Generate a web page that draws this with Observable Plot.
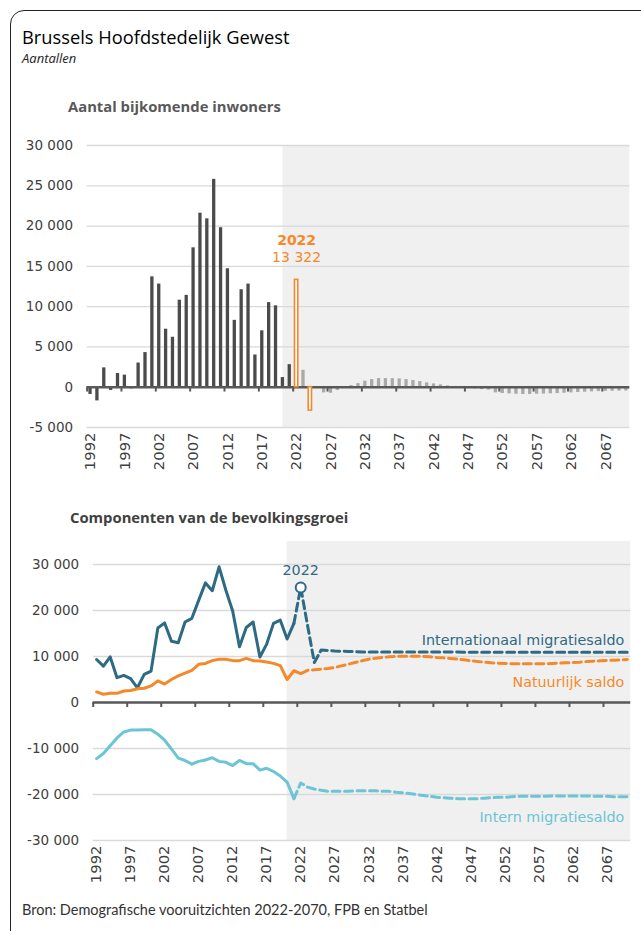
<!DOCTYPE html>
<html><head><meta charset="utf-8">
<script src="https://cdn.jsdelivr.net/npm/d3@7"></script>
<script src="https://cdn.jsdelivr.net/npm/@observablehq/plot@0.6"></script>
<style>
html,body{margin:0;padding:0;background:#fff}
body{width:641px;height:931px;overflow:hidden;position:relative;font-family:"DejaVu Sans",sans-serif}
#card{position:absolute;left:10px;top:10px;width:720px;height:1000px;border:1.5px solid #222;border-radius:14px;box-sizing:border-box}
.t{position:absolute;white-space:nowrap;line-height:1}
#title{left:22px;top:28px;font-family:"Open Sans";font-size:18.3px;color:#000}
#subtitle{left:22px;top:52px;font-family:"Open Sans";font-style:italic;font-size:13px;color:#222}
#h1{left:68px;top:99px;font-family:"Open Sans";font-weight:bold;font-size:14.8px;color:#595959}
#h2{left:70px;top:510px;font-family:"Open Sans";font-weight:bold;font-size:14.8px;color:#404040}
#caption{left:22px;top:903px;font-family:"Lato";font-size:14.5px;color:#333}
#top{position:absolute;left:0;top:120px}
#bot{position:absolute;left:0;top:530px}
svg text{font-family:"DejaVu Sans",sans-serif !important}
</style></head>
<body>
<div id="card"></div>
<div class="t" id="title">Brussels Hoofdstedelijk Gewest</div>
<div class="t" id="subtitle">Aantallen</div>
<div class="t" id="h1">Aantal bijkomende inwoners</div>
<div class="t" id="h2">Componenten van de bevolkingsgroei</div>
<div id="top"></div>
<div id="bot"></div>
<div class="t" id="caption">Bron: Demografische vooruitzichten 2022-2070, FPB en Statbel</div>
<script>
// ---------- DATA ----------
const firstYear = 1992;
const lastObservedYear = 2021;
const shadeFromYear = 2020;
const highlightYears = [2022, 2024];
const xLabelYears = [1992, 1997, 2002, 2007, 2012, 2017, 2022, 2027, 2032, 2037, 2042, 2047, 2052, 2057, 2062, 2067];
const topYTicks = [-5000, 0, 5000, 10000, 15000, 20000, 25000, 30000];
const botYTicks = [-30000, -20000, -10000, 0, 10000, 20000, 30000];
const topYDomain = [-5000, 30000];
const botYDomain = [-30000, 35000];

// Aantal bijkomende inwoners, 1992-2070
const growth = [
  -900, -1700, 2400, -400, 1700, 1500, -200, 3000, 4300, 13700,
  12800, 7200, 6200, 10800, 11400, 17300, 21600, 20900, 25800, 19800,
  14700, 8300, 12100, 12800, 4000, 7000, 10500, 10100, 1200, 2800,
  13322, 2100, -2900, -100, -700, -750, -400, -50, 200, 450,
  750, 950, 1070, 1070, 1070, 1030, 950, 830, 700, 540,
  410, 290, 170, 50, -50, -150, -200, -300, -350, -700,
  -780, -830, -870, -900, -900, -870, -850, -820, -790, -750,
  -700, -660, -620, -580, -540, -520, -500, -480, -470
];

// Internationaal migratiesaldo, 1992-2070
const international = [
  9350, 7900, 9900, 5400, 5900, 5200, 3200, 6100, 6800, 16200,
  17300, 13300, 13000, 17500, 18300, 22200, 26000, 24300, 29500, 24400,
  19900, 12100, 16300, 17500, 9900, 12700, 17200, 17900, 13800, 17200,
  25000, 16800, 8700, 11400, 11300, 11200, 11150, 11100, 11050, 11000,
  11000, 11000, 11000, 11000, 11000, 11000, 11000, 11000, 11000, 11000,
  10980, 10980, 10970, 10960, 10950, 10950, 10940, 10940, 10930, 10930,
  10920, 10920, 10910, 10910, 10900, 10900, 10900, 10900, 10900, 10900,
  10900, 10900, 10900, 10900, 10900, 10900, 10900, 10900, 10900
];

// Natuurlijk saldo, 1992-2070
const natural = [
  2300, 1800, 2000, 2000, 2500, 2600, 3000, 3100, 3600, 4700,
  4000, 5000, 5800, 6400, 7000, 8300, 8500, 9100, 9400, 9400,
  9100, 9100, 9600, 9100, 9000, 8800, 8500, 8000, 5000, 6900,
  6300, 7000, 7100, 7250, 7400, 7600, 7970, 8330, 8700, 9060,
  9420, 9640, 9780, 9930, 10000, 10070, 10070, 10070, 10000, 9930,
  9780, 9710, 9570, 9420, 9280, 9060, 8910, 8770, 8620, 8550,
  8480, 8420, 8400, 8400, 8400, 8400, 8420, 8480, 8550, 8620,
  8700, 8770, 8900, 8990, 9060, 9130, 9200, 9280, 9350
];

// Intern migratiesaldo, 1992-2070
const internal = [
  -12200, -11100, -9400, -7700, -6400, -6000, -6000, -5900, -5900, -6900,
  -8200, -10100, -12100, -12600, -13400, -12800, -12500, -12000, -12800, -13000,
  -13700, -12600, -13300, -13300, -14700, -14300, -15000, -16000, -17300, -20900,
  -17500, -18400, -18800, -19100, -19300, -19300, -19300, -19300, -19200, -19200,
  -19200, -19200, -19300, -19300, -19500, -19600, -19800, -20000, -20200, -20400,
  -20600, -20700, -20800, -20900, -20900, -20900, -20900, -20800, -20700, -20600,
  -20600, -20500, -20400, -20400, -20400, -20400, -20400, -20300, -20300, -20300,
  -20300, -20300, -20300, -20400, -20400, -20400, -20500, -20500, -20500
];

const seriesInfo = [
  {name: "Internationaal migratiesaldo", values: international, color: "#2e6a83", dashFrom: 2021, labelDy: -12},
  {name: "Natuurlijk saldo", values: natural, color: "#f5892a", dashFrom: 2022, labelDy: 23},
  {name: "Intern migratiesaldo", values: internal, color: "#6cc4d4", dashFrom: 2021, labelDy: 21}
];

// ---------- HELPERS ----------
const fmt = d3.formatLocale({decimal: ",", thousands: " ", grouping: [3], currency: ["", ""], minus: "-"}).format(",d");
const years = growth.map((_, i) => firstYear + i);
const lastYear = years[years.length - 1];
const xDomain = [firstYear - 0.5, lastYear + 0.5];
const tickBounds = xLabelYears.map(y => y - 0.5);
const shade = [{x1: shadeFromYear, x2: lastYear + 0.5}];
const orange = "#f5892a";
const FONT = "DejaVu Sans";

const bars = years.map((year, i) => ({
  year, value: growth[i],
  kind: highlightYears.includes(year) ? "hl" : (year <= lastObservedYear ? "obs" : "proj")
}));
const fillOf = {obs: "#4b4b4b", proj: "#a9a9a9", hl: "#ffffff"};

const baseStyle = {"font-family": FONT, "font-size": "14px", color: "#404040", background: "transparent", overflow: "visible"};

// ---------- TOP CHART ----------
const topPlot = Plot.plot({
  width: 641, height: 360,
  marginTop: 25, marginBottom: 53, marginLeft: 86.6, marginRight: 11.7,
  x: {domain: xDomain},
  y: {domain: topYDomain},
  style: baseStyle,
  marks: [
    Plot.rect(shade, {x1: "x1", x2: "x2", y1: topYDomain[0], y2: topYDomain[1], fill: "#f0f0f0"}),
    Plot.gridY({ticks: topYTicks, stroke: "#d9d9d9", strokeOpacity: 1, strokeWidth: 1.3}),
    Plot.axisY({ticks: topYTicks, tickSize: 0, tickPadding: 14, tickFormat: fmt, label: null, fontFamily: FONT, fontSize: 13.5}),
    Plot.axisX({ticks: xLabelYears, tickSize: 0, tickPadding: 5, tickRotate: -90, tickFormat: d => String(d), label: null, fontFamily: FONT, fontSize: 14.8}),
    Plot.rectY(bars.filter(d => d.kind !== "hl"), {
      x1: d => d.year - 0.24, x2: d => d.year + 0.24, y1: 0, y2: "value",
      fill: d => fillOf[d.kind]
    }),
    Plot.ruleY([0], {stroke: "#595959", strokeWidth: 2.5}),
    Plot.ruleX(tickBounds, {y1: 0, y2: -600, stroke: "#595959", strokeWidth: 2}),
    Plot.rectY(bars.filter(d => d.kind === "hl"), {
      x1: d => d.year - 0.24, x2: d => d.year + 0.24, y1: 0, y2: "value",
      fill: "#ffffff", stroke: orange, strokeWidth: 1.6
    }),
    Plot.text(bars.filter(d => d.year === highlightYears[0]), {
      x: "year", y: "value", text: d => String(d.year), dy: -39,
      fill: orange, fontWeight: "bold", fontSize: 14, fontFamily: FONT
    }),
    Plot.text(bars.filter(d => d.year === highlightYears[0]), {
      x: "year", y: "value", text: d => fmt(d.value), dy: -22,
      fill: orange, fontSize: 14, fontFamily: FONT
    })
  ]
});
document.getElementById("top").append(topPlot);

// ---------- BOTTOM CHART ----------
const lineMarks = [];
for (const s of seriesInfo) {
  const rows = years.map((year, i) => ({year, value: s.values[i]}));
  lineMarks.push(Plot.line(rows.filter(d => d.year <= s.dashFrom), {x: "year", y: "value", stroke: s.color, strokeWidth: 3, strokeLinejoin: "round"}));
  lineMarks.push(Plot.line(rows.filter(d => d.year >= s.dashFrom), {x: "year", y: "value", stroke: s.color, strokeWidth: 3, strokeDasharray: "8 4.5"}));
  lineMarks.push(Plot.text(rows.filter(d => d.year === lastYear), {
    x: "year", y: "value", text: () => s.name, textAnchor: "end", dx: -3, dy: s.labelDy,
    fill: s.color, fontSize: 14.3, fontFamily: FONT
  }));
}
const intlRows = years.map((year, i) => ({year, value: international[i]}));
const markerRow = intlRows.filter(d => d.year === 2022);

const botPlot = Plot.plot({
  width: 641, height: 360,
  marginTop: 11, marginBottom: 50, marginLeft: 92.7, marginRight: 10.8,
  x: {domain: xDomain},
  y: {domain: botYDomain},
  style: baseStyle,
  marks: [
    Plot.rect(shade, {x1: "x1", x2: "x2", y1: botYDomain[0], y2: botYDomain[1], fill: "#f0f0f0"}),
    Plot.gridY({ticks: botYTicks, stroke: "#d9d9d9", strokeOpacity: 1, strokeWidth: 1.3}),
    Plot.axisY({ticks: botYTicks, tickSize: 0, tickPadding: 14, tickFormat: fmt, label: null, fontFamily: FONT, fontSize: 13.5}),
    Plot.axisX({ticks: xLabelYears, tickSize: 0, tickPadding: 5, tickRotate: -90, tickFormat: d => String(d), label: null, fontFamily: FONT, fontSize: 14.8}),
    Plot.ruleY([0], {stroke: "#595959", strokeWidth: 2.5}),
    Plot.ruleX(tickBounds, {y1: 0, y2: -1100, stroke: "#595959", strokeWidth: 2}),
    ...lineMarks,
    Plot.dot(markerRow, {x: "year", y: "value", r: 5, fill: "#ffffff", stroke: seriesInfo[0].color, strokeWidth: 2}),
    Plot.text(markerRow, {x: "year", y: "value", text: d => String(d.year), dy: -17, fill: seriesInfo[0].color, fontSize: 14.3, fontFamily: FONT})
  ]
});
document.getElementById("bot").append(botPlot);
</script>
</body></html>
